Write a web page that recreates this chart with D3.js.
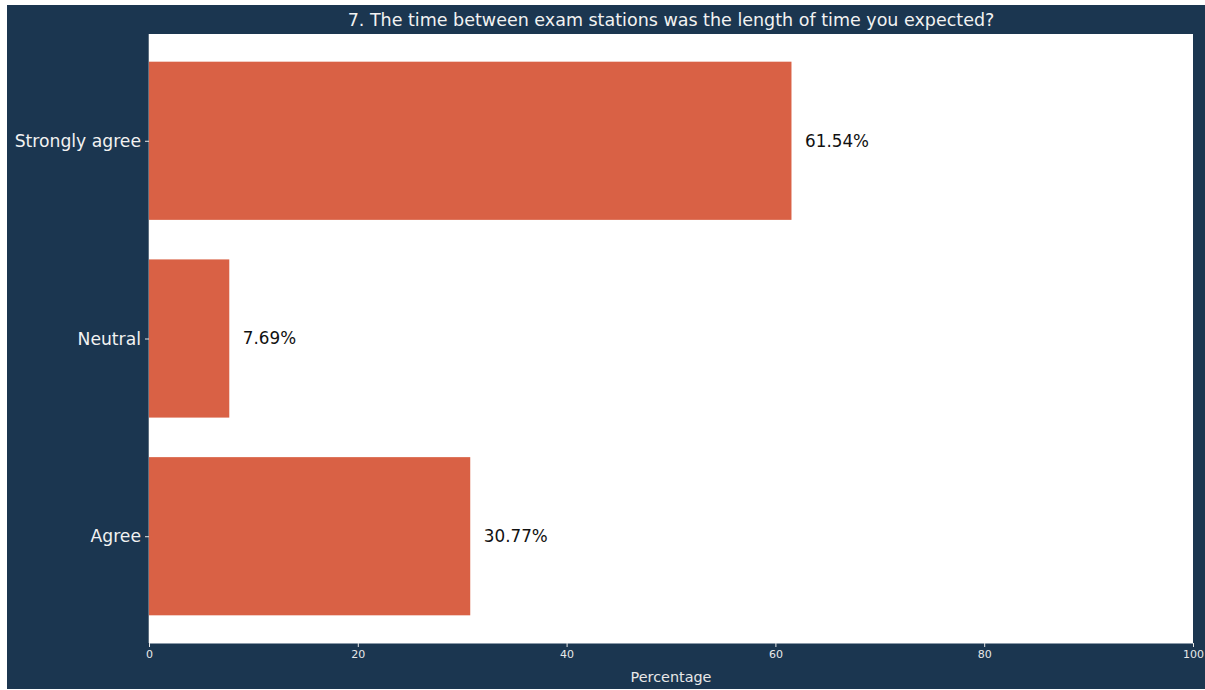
<!DOCTYPE html>
<html>
<head>
<meta charset="utf-8">
<script src="https://cdn.jsdelivr.net/npm/d3@7"></script>
<style>
  html, body { margin: 0; padding: 0; background: #ffffff; }
  svg { display: block; }
  text { font-family: "DejaVu Sans", sans-serif; }
</style>
</head>
<body>
<svg id="chart" width="1205" height="690"></svg>
<script>
// Survey responses, bottom to top
const categories = ["Agree", "Neutral", "Strongly agree"];
const percentages = [30.77, 7.69, 61.54];
const xTicks = [0, 20, 40, 60, 80, 100];
const title = "7. The time between exam stations was the length of time you expected?";
const xLabel = "Percentage";

const svg = d3.select("#chart");
const W = 1205, H = 690;

// Dark figure background
svg.append("rect")
  .attr("x", 7).attr("y", 5)
  .attr("width", W - 7).attr("height", 684)
  .attr("fill", "#1b3650");

const plot = { left: 149, top: 34, right: 1193, bottom: 643 };

svg.append("rect")
  .attr("x", plot.left).attr("y", plot.top)
  .attr("width", plot.right - plot.left).attr("height", plot.bottom - plot.top)
  .attr("fill", "#ffffff");

const x = d3.scaleLinear().domain([0, 100]).range([plot.left, plot.right]);

// Numeric y-axis with bars centred on integer positions (height 0.8)
const y = d3.scaleLinear().domain([-0.54, 2.54]).range([plot.bottom, plot.top]);
const barH = 0.8;

const data = categories.map((c, i) => ({ cat: c, value: percentages[i], pos: i }));

svg.append("g").selectAll("rect")
  .data(data).join("rect")
  .attr("x", x(0))
  .attr("y", d => y(d.pos + barH / 2))
  .attr("width", d => x(d.value) - x(0))
  .attr("height", d => y(d.pos - barH / 2) - y(d.pos + barH / 2))
  .attr("fill", "#d96145");

// Value labels
svg.append("g").selectAll("text")
  .data(data).join("text")
  .attr("x", d => x(d.value + 1.3))
  .attr("y", d => y(d.pos))
  .attr("dy", "0.35em")
  .attr("font-size", 16.8)
  .attr("fill", "#111111")
  .text(d => d.value.toFixed(2) + "%");

// Left spine
svg.append("line")
  .attr("x1", plot.left - 0.5).attr("x2", plot.left - 0.5)
  .attr("y1", plot.top).attr("y2", plot.bottom)
  .attr("stroke", "#5d6f80").attr("stroke-width", 1);

// X axis
const xAxis = svg.append("g")
  .attr("transform", `translate(0,${plot.bottom})`)
  .call(d3.axisBottom(x).tickValues(xTicks).tickSize(4).tickPadding(3).tickFormat(d3.format("d")));
xAxis.select(".domain").attr("stroke", "#8a99a8");
xAxis.selectAll(".tick line").attr("stroke", "#e8e8e8");
xAxis.selectAll(".tick text").attr("fill", "#e8e8e8").attr("font-size", 11)
  .attr("font-family", "DejaVu Sans, sans-serif");

// Y axis
const yAxis = svg.append("g")
  .attr("transform", `translate(${plot.left},0)`)
  .call(d3.axisLeft(y).tickValues(data.map(d => d.pos)).tickSize(4).tickPadding(4)
    .tickFormat(d => categories[d]));
yAxis.select(".domain").remove();
yAxis.selectAll(".tick line").attr("stroke", "#e8e8e8");
yAxis.selectAll(".tick text").attr("fill", "#f2f2f2").attr("font-size", 17.2)
  .attr("font-family", "DejaVu Sans, sans-serif");

// Title
svg.append("text")
  .attr("x", (plot.left + plot.right) / 2)
  .attr("y", 26)
  .attr("text-anchor", "middle")
  .attr("font-size", 17.5)
  .attr("fill", "#f2f2f2")
  .text(title);

// X axis label
svg.append("text")
  .attr("x", (plot.left + plot.right) / 2)
  .attr("y", 682)
  .attr("text-anchor", "middle")
  .attr("font-size", 14.4)
  .attr("fill", "#e8e8e8")
  .text(xLabel);
</script>
</body>
</html>
